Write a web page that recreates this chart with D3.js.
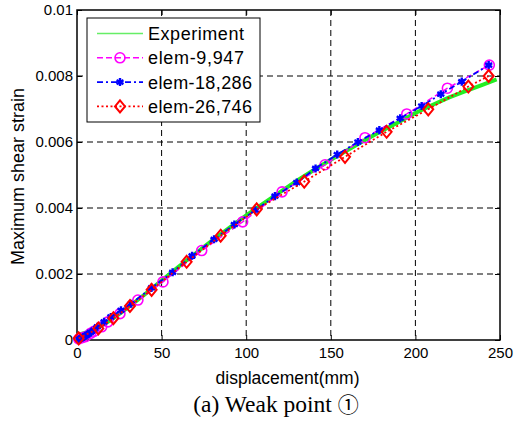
<!DOCTYPE html>
<html>
<head>
<meta charset="utf-8">
<script src="https://cdn.jsdelivr.net/npm/d3@7"></script>
<style>
  body { margin: 0; background: #fff; }
  svg { display: block; }
</style>
</head>
<body>
<div id="main-container"></div>
<script>
// Data
const X_TICKS = [0, 50, 100, 150, 200, 250];
const Y_TICKS = [0, 0.002, 0.004, 0.006, 0.008, 0.01];
const Y_TICK_LABELS = ['0', '0.002', '0.004', '0.006', '0.008', '0.01'];

const EXP_X = [0, 10, 20, 30, 40, 50, 60, 70, 80, 90, 100, 110, 120, 130, 140, 150, 160, 170, 180, 190, 200, 210, 220, 230, 240, 248];
const EXP_Y = [0.00015, 0.0003, 0.0006, 0.00098, 0.00138, 0.0018, 0.00222, 0.00262, 0.00302, 0.0034, 0.00378, 0.00413, 0.00448, 0.00483, 0.00515, 0.00546, 0.00576, 0.00605, 0.00633, 0.0066, 0.00688, 0.00712, 0.00735, 0.00755, 0.00774, 0.0079];

const E9947_X = [1, 3, 5, 8, 10, 14.6, 18.3, 25.4, 36, 50.8, 73.7, 97.9, 121.2, 146.6, 170.2, 194.9, 218.9, 243.7];
const E9947_Y = [0.00003, 0.00007, 0.0001, 0.0002, 0.00026, 0.0004, 0.00055, 0.0008, 0.00121, 0.00176, 0.00271, 0.00358, 0.00449, 0.00531, 0.00613, 0.00685, 0.00763, 0.00833];

const E18286_X = [1, 2, 3, 4, 5, 6, 7, 8, 10, 12, 16, 20, 26, 32, 44, 56.5, 68, 81, 93, 105.4, 117, 129.9, 141, 153.8, 166, 178.7, 191, 203.7, 215, 227.4, 243.3];
const E18286_Y = [0.00002, 0.00004, 0.00007, 0.0001, 0.00013, 0.00016, 0.00019, 0.00023, 0.0003, 0.0004, 0.00055, 0.0007, 0.0009, 0.0011, 0.00158, 0.00205, 0.00255, 0.00305, 0.0035, 0.00393, 0.00436, 0.00477, 0.0052, 0.00562, 0.006, 0.00636, 0.00672, 0.00709, 0.00745, 0.00783, 0.00833];

const E26746_X = [1, 12.6, 21.5, 31.3, 44.1, 64.8, 84.9, 106.2, 134.3, 158.4, 183, 207.6, 231.3, 243.3];
const E26746_Y = [0.00005, 0.00035, 0.00066, 0.00103, 0.00152, 0.00237, 0.00316, 0.00396, 0.0048, 0.00555, 0.00631, 0.00699, 0.00768, 0.008];

const SERIES = [
  { name: 'Experiment', xs: EXP_X, ys: EXP_Y, color: '#22ee22', legendColor: '#66ee66', width: 4, dash: null, marker: null },
  { name: 'elem-9,947', xs: E9947_X, ys: E9947_Y, color: '#ff00ff', width: 1.5, dash: '6,3', marker: 'circle' },
  { name: 'elem-18,286', xs: E18286_X, ys: E18286_Y, color: '#0000ff', width: 1.8, dash: '6,3,2,3', marker: 'star' },
  { name: 'elem-26,746', xs: E26746_X, ys: E26746_Y, color: '#ff0000', width: 1.8, dash: '2,2.5', marker: 'diamond' }
];

const WIDTH = 515, HEIGHT = 423;
const PLOT = { left: 77, right: 500, top: 10, bottom: 340 };
const SANS = '"Liberation Sans", Arial, sans-serif';

const SVG = d3.select('#main-container').append('svg')
  .attr('width', WIDTH)
  .attr('height', HEIGHT)
  .style('font-family', SANS);

const X_SCALE = d3.scaleLinear().domain([0, 250]).range([PLOT.left, PLOT.right]);
const Y_SCALE = d3.scaleLinear().domain([0, 0.01]).range([PLOT.bottom, PLOT.top]);

// Grid
const GRID = SVG.append('g').attr('stroke', '#000').attr('stroke-width', 1).attr('stroke-dasharray', '6,4');
GRID.selectAll('.gx').data(X_TICKS.slice(1, -1)).enter().append('line')
  .attr('x1', d => X_SCALE(d)).attr('x2', d => X_SCALE(d))
  .attr('y1', PLOT.top).attr('y2', PLOT.bottom);
GRID.selectAll('.gy').data(Y_TICKS.slice(1, -1)).enter().append('line')
  .attr('y1', d => Y_SCALE(d)).attr('y2', d => Y_SCALE(d))
  .attr('x1', PLOT.left).attr('x2', PLOT.right);

// Axes with inward ticks
const styleAxis = g => {
  g.attr('font-family', SANS).attr('font-size', 15);
  g.select('.domain').remove();
  g.selectAll('line').attr('stroke', '#000').attr('stroke-width', 1);
  g.selectAll('text').attr('fill', '#000');
};
SVG.append('g').attr('transform', `translate(0,${PLOT.bottom})`)
  .call(d3.axisBottom(X_SCALE).tickValues(X_TICKS).tickFormat(d3.format('d')).tickSize(-5).tickPadding(7))
  .call(styleAxis);
SVG.append('g').attr('transform', `translate(0,${PLOT.top})`)
  .call(d3.axisTop(X_SCALE).tickValues(X_TICKS).tickFormat('').tickSize(-5))
  .call(styleAxis);
SVG.append('g').attr('transform', `translate(${PLOT.left},0)`)
  .call(d3.axisLeft(Y_SCALE).tickValues(Y_TICKS).tickFormat((d, i) => Y_TICK_LABELS[i]).tickSize(-5).tickPadding(4))
  .call(styleAxis);
SVG.append('g').attr('transform', `translate(${PLOT.right},0)`)
  .call(d3.axisRight(Y_SCALE).tickValues(Y_TICKS).tickFormat('').tickSize(-5))
  .call(styleAxis);

// Frame
SVG.append('rect')
  .attr('x', PLOT.left).attr('y', PLOT.top)
  .attr('width', PLOT.right - PLOT.left).attr('height', PLOT.bottom - PLOT.top)
  .attr('fill', 'none').attr('stroke', '#000').attr('stroke-width', 1.5);

// Markers
const drawMarker = (g, type, color, x, y) => {
  if (type === 'circle') {
    g.append('circle').attr('cx', x).attr('cy', y).attr('r', 5)
      .attr('fill', 'none').attr('stroke', color).attr('stroke-width', 1.6);
  } else if (type === 'diamond') {
    g.append('path').attr('d', `M${x},${y - 6}L${x + 5},${y}L${x},${y + 6}L${x - 5},${y}Z`)
      .attr('fill', 'none').attr('stroke', color).attr('stroke-width', 2);
  } else if (type === 'star') {
    g.append('path').attr('transform', `translate(${x},${y})`)
      .attr('d', d3.symbol(d3.symbolAsterisk, 45)())
      .attr('fill', 'none').attr('stroke', color).attr('stroke-width', 2.4);
  }
};

const LINE = d3.line().x(d => X_SCALE(d[0])).y(d => Y_SCALE(d[1]));

SERIES.forEach(s => {
  const pts = s.xs.map((x, i) => [x, s.ys[i]]);
  const g = SVG.append('g');
  g.append('path').datum(pts)
    .attr('d', LINE)
    .attr('fill', 'none')
    .attr('stroke', s.color)
    .attr('stroke-width', s.width)
    .attr('stroke-dasharray', s.dash);
  if (s.marker) pts.forEach(p => drawMarker(g, s.marker, s.color, X_SCALE(p[0]), Y_SCALE(p[1])));
});

// Legend
const LEGEND = SVG.append('g').attr('transform', 'translate(87,18)');
LEGEND.append('rect').attr('width', 173).attr('height', 104)
  .attr('fill', '#fff').attr('stroke', '#000').attr('stroke-width', 1);
SERIES.forEach((s, i) => {
  const y = 15.5 + i * 24.3;
  LEGEND.append('line').attr('x1', 10).attr('x2', 56).attr('y1', y).attr('y2', y)
    .attr('stroke', s.legendColor || s.color).attr('stroke-width', s.marker ? s.width : 1.5)
    .attr('stroke-dasharray', s.dash);
  if (s.marker) drawMarker(LEGEND, s.marker, s.color, 33, y);
  LEGEND.append('text').attr('x', 61).attr('y', y + 6.5)
    .attr('textLength', s.name.length > 10 ? 104 : 96)
    .style('font-size', '18px').text(s.name);
});

// Axis titles
SVG.append('text')
  .attr('x', 287.5).attr('y', 384)
  .attr('text-anchor', 'middle').style('font-size', '17.5px')
  .text('displacement(mm)');
SVG.append('text')
  .attr('transform', `translate(23.5,${Y_SCALE(0.005) + 1.5}) rotate(-90)`)
  .attr('text-anchor', 'middle').style('font-size', '18px')
  .text('Maximum shear strain');

// Caption
const CAPTION = SVG.append('text')
  .attr('x', 276).attr('y', 412)
  .attr('text-anchor', 'middle')
  .style('font-family', '"Liberation Serif", "Times New Roman", serif')
  .style('font-size', '23.5px');
CAPTION.append('tspan').text('(a) Weak point ');
CAPTION.append('tspan').style('font-family', '"Noto Sans CJK JP", "DejaVu Serif", serif').style('font-size', '21px').text('\u2460');
</script>
</body>
</html>
